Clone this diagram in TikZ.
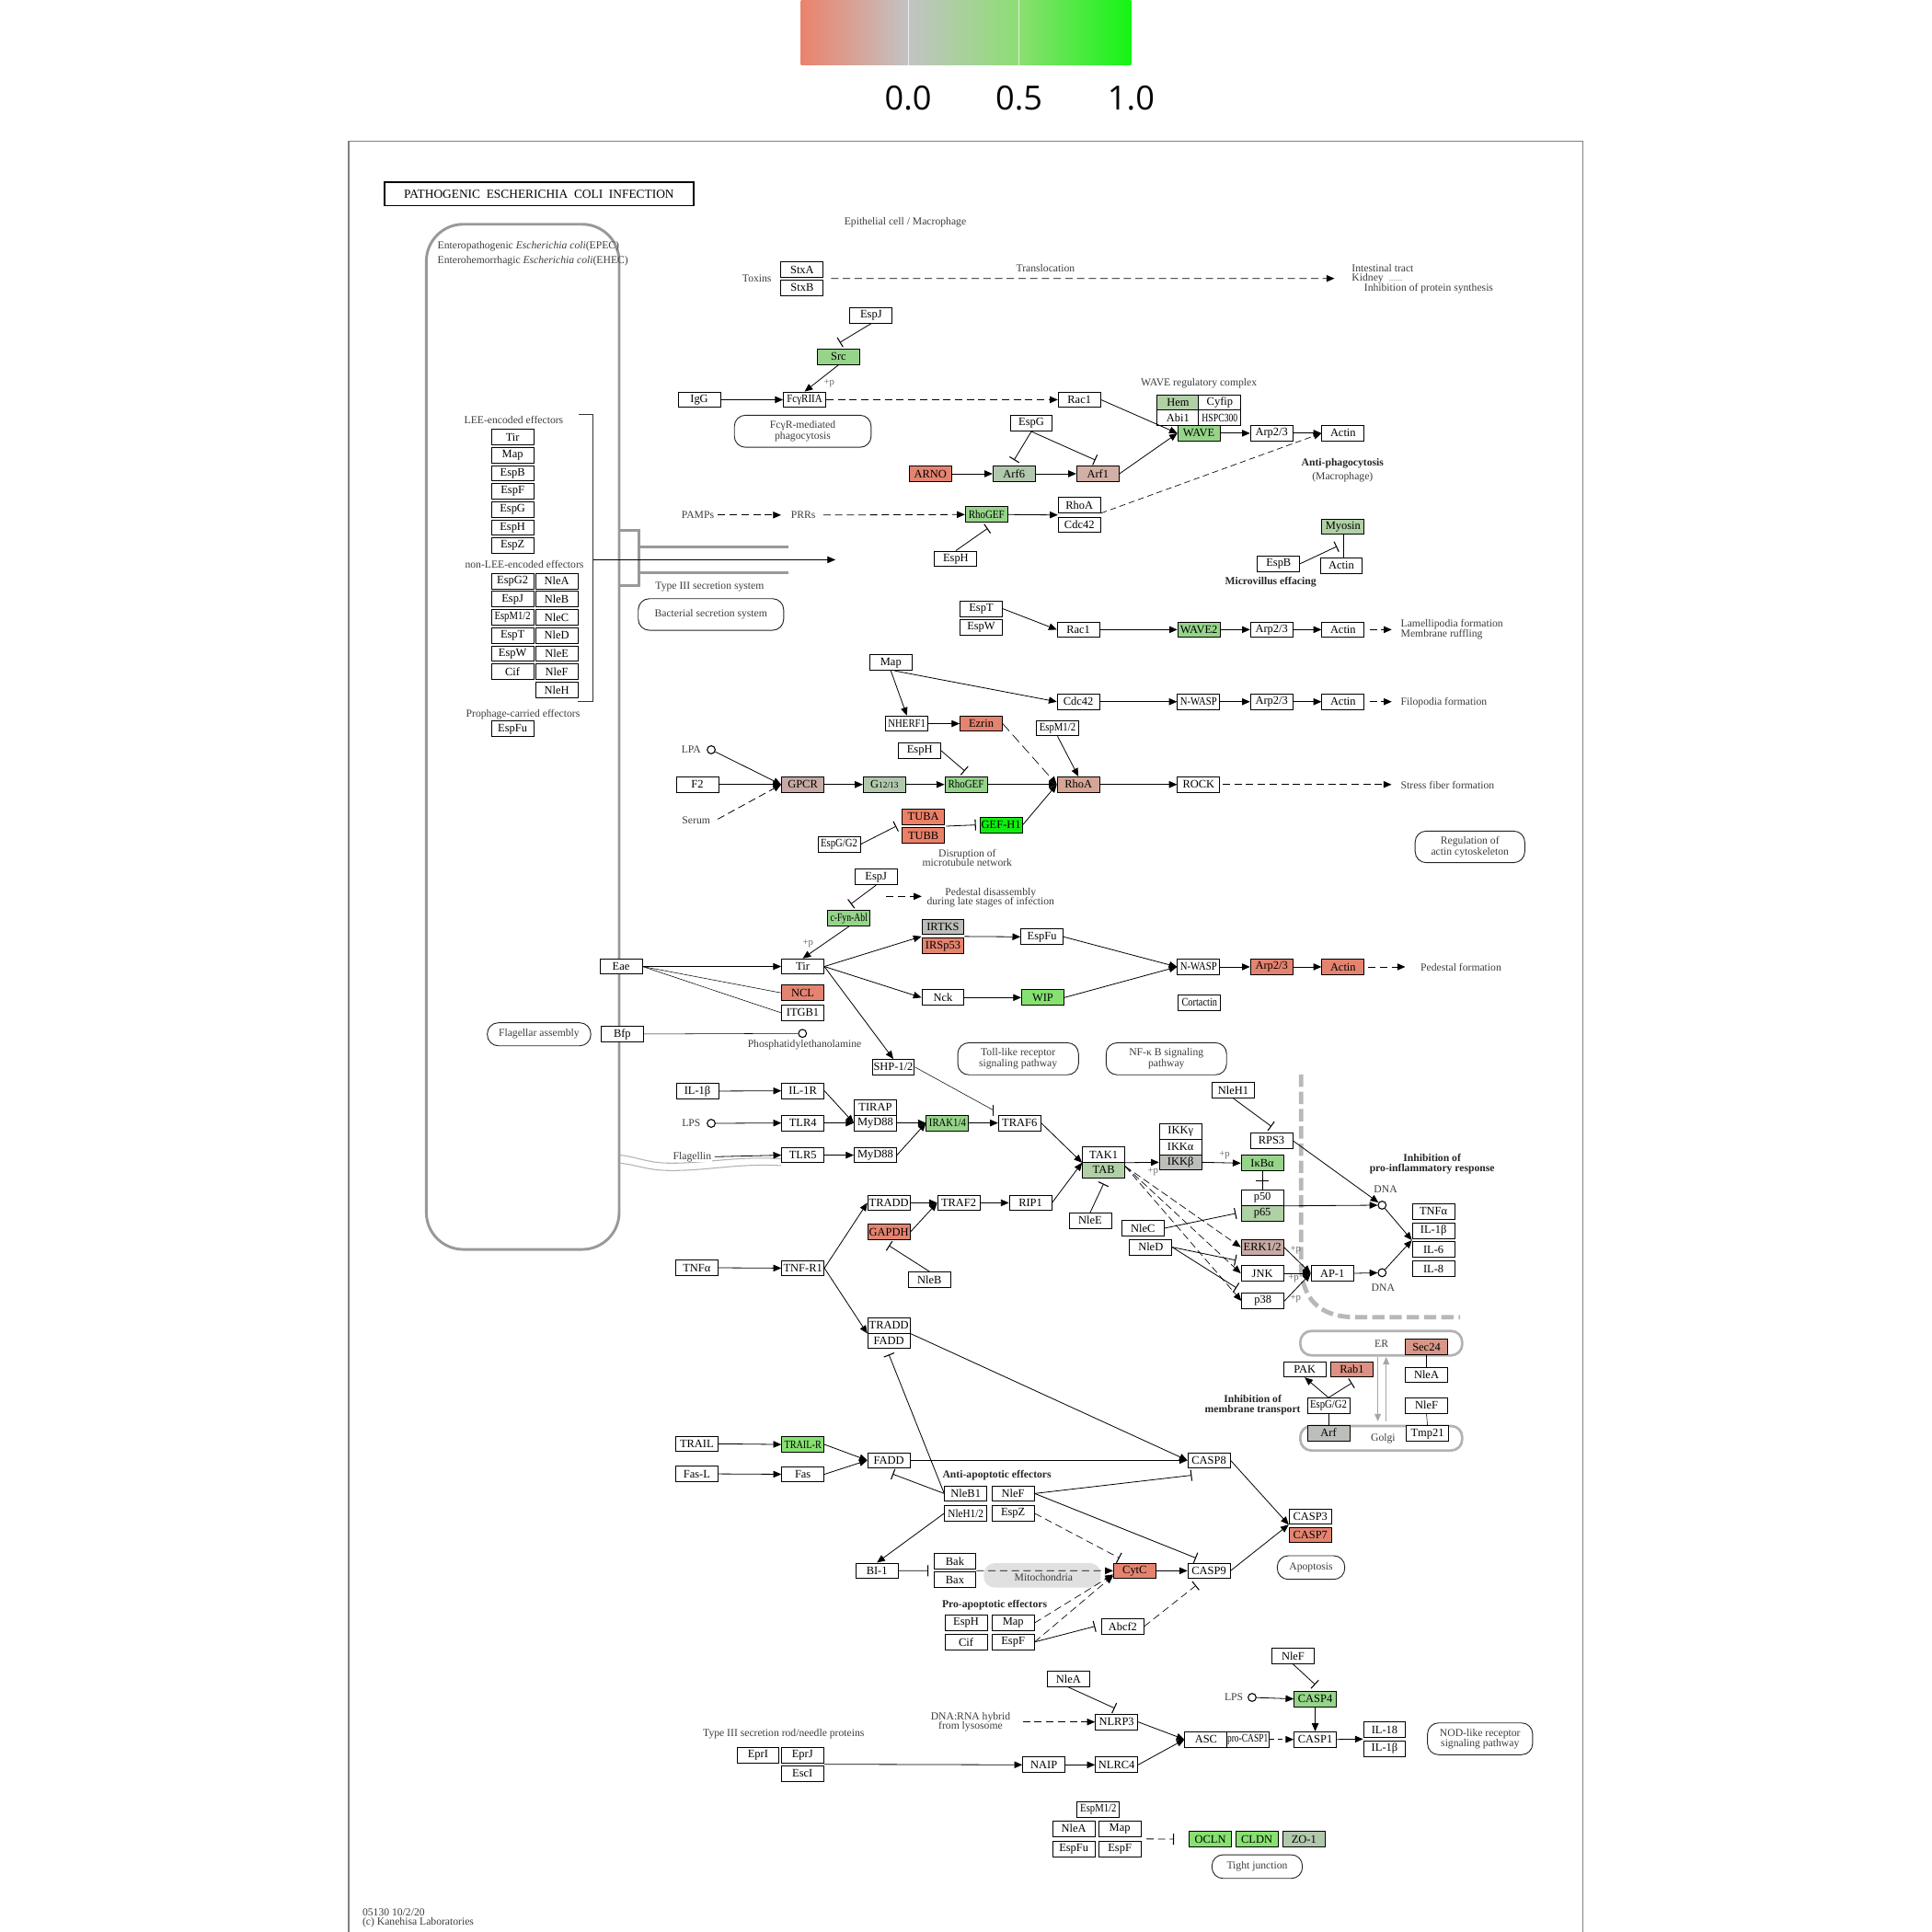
\documentclass[tikz,border=0pt]{standalone}
\usepackage{fontspec}
\usepackage{graphicx}
\setmainfont{Liberation Serif}
\newfontfamily\barfont{Open Sans}
\usetikzlibrary{arrows.meta,calc}
\definecolor{csal}{RGB}{228,132,112}
\definecolor{ctub}{RGB}{234,128,104}
\definecolor{carf}{RGB}{210,175,165}
\definecolor{cgpcr}{RGB}{200,170,165}
\definecolor{crhoa}{RGB}{215,165,150}
\definecolor{csec}{RGB}{215,150,135}
\definecolor{crab}{RGB}{220,145,130}
\definecolor{cgrn}{RGB}{150,212,138}
\definecolor{cgrn2}{RGB}{135,225,112}
\definecolor{cgz}{RGB}{178,200,172}
\definecolor{chem}{RGB}{176,208,166}
\definecolor{cbright}{RGB}{16,238,16}
\definecolor{cgray}{RGB}{188,190,186}
\definecolor{ctxt}{RGB}{60,60,60}
\definecolor{cbarl}{RGB}{235,130,108}
\definecolor{cbarm}{RGB}{195,195,195}
\definecolor{cbarg}{RGB}{140,222,115}
\definecolor{cbarr}{RGB}{20,245,20}
\newcommand{\sqz}[2][0.85]{\scalebox{#1}[1]{#2}}
\newcommand{\kg}[4][white]{\node[gene,fill=#1] (#2) at (#3) {#4};}
\newcommand{\kt}[3]{\node[lbl] (#1) at (#2) {#3};}
\begin{document}
\begin{tikzpicture}[x=1pt,y=-1pt,
  gene/.style={draw=black, line width=0.7pt, minimum width=34.3pt, minimum height=12.5pt, inner sep=0pt, font=\fontsize{9.3}{9.3}\selectfont},
  lbl/.style={inner sep=0pt, font=\fontsize{8.7}{8.7}\selectfont, text=ctxt, align=center},
  blbl/.style={inner sep=0pt, font=\fontsize{8.7}{8.7}\selectfont\bfseries, text=black!85, align=center},
  plbl/.style={inner sep=0pt, font=\fontsize{8}{8}\selectfont, text=black!60},
  pw/.style={draw=black!85, line width=0.7pt, rounded corners=9pt, inner sep=0pt, font=\fontsize{8.7}{8.5}\selectfont, text=ctxt, align=center},
  cpd/.style={circle, draw=black, line width=0.8pt, minimum size=6.5pt, inner sep=0pt, fill=white},
  act/.style={-{Triangle[length=6.5pt,width=5.5pt]}, line width=0.6pt},
  inh/.style={-{Bar[width=9pt,line width=0.8pt]}, line width=0.6pt},
  dsh/.style={dash pattern=on 6pt off 3.5pt},
  gline/.style={draw=black!40, line width=2.2pt},
]
\useasboundingbox (0,0) rectangle (1568,1568);
% colour bar
\shade[left color=cbarl, right color=cbarm] (650,0) rectangle (737,53);
\shade[left color=cbarm, right color=cbarg] (737,0) rectangle (827,53);
\shade[left color=cbarg, right color=cbarr] (827,0) rectangle (918,53);
\draw[white, line width=0.8pt, opacity=0.7] (737,0) -- (737,53);
\draw[white, line width=0.8pt, opacity=0.7] (827,0) -- (827,53);
\node[font=\barfont\fontsize{27}{27}\selectfont] (b0) at (737,80) {0.0};
\node[font=\barfont\fontsize{27}{27}\selectfont] (b5) at (827,80) {0.5};
\node[font=\barfont\fontsize{27}{27}\selectfont] (b1) at (918,80) {1.0};
% frame
\draw[black!50, line width=1.2pt] (283,1570) -- (283,114.5) -- (1284.5,114.5) -- (1284.5,1570);
\node[draw, line width=1.2pt, minimum width=251pt, minimum height=19pt, inner sep=0pt, font=\fontsize{10}{10}\selectfont] (title) at (437.5,157.5) {PATHOGENIC\ \ ESCHERICHIA\ \ COLI\ \ INFECTION};
% bacterium
\draw[gline, rounded corners=30pt] (346,182) rectangle (502.5,1014);
\node[lbl, anchor=west] (epec) at (355,200) {Enteropathogenic \textit{Escherichia coli}(EPEC)};
\node[lbl, anchor=west] (ehec) at (355,212) {Enterohemorrhagic \textit{Escherichia coli}(EHEC)};
% type III secretion
\draw[gline] (502.5,430.6) -- (518.6,430.6) -- (518.6,475.4) -- (502.5,475.4);
\draw[gline] (518.6,443.8) -- (639.7,443.8);
\draw[gline] (518.6,465) -- (639.7,465);
\draw[black!80, line width=0.7pt] (470,336.5) -- (481.4,336.5) -- (481.4,569.5) -- (469,569.5);
\coordinate (t3s) at (481.4,454.3);
\coordinate (t3e) at (678,454.3);
\draw[act] (t3s) -- (t3e);
\kt{t3lbl}{576,476.5}{Type III secretion system}
\node[pw, minimum width=118pt, minimum height=25.6pt] (pwbss) at (577,498.7) {Bacterial secretion system};
% effectors
\kt{leel}{417,341}{LEE-encoded effectors}
\kg{e1}{416,354.7}{Tir}
\kg{e2}{416,369.4}{Map}
\kg{e3}{416,384.1}{EspB}
\kg{e4}{416,398.8}{EspF}
\kg{e5}{416,413.5}{EspG}
\kg{e6}{416,428.2}{EspH}
\kg{e7}{416,442.9}{EspZ}
\kt{nleel}{425.6,457.8}{non-LEE-encoded effectors}
\kg{n1}{416,471.6}{EspG2}
\kg{n2}{416,486.3}{EspJ}
\kg{n3}{416,501}{\sqz[0.86]{EspM1/2}}
\kg{n4}{416,515.7}{EspT}
\kg{n5}{416,530.4}{EspW}
\kg{n6}{416,545.1}{Cif}
\kg{m1}{451.8,471.6}{NleA}
\kg{m2}{451.8,486.3}{NleB}
\kg{m3}{451.8,501}{NleC}
\kg{m4}{451.8,515.7}{NleD}
\kg{m5}{451.8,530.4}{NleE}
\kg{m6}{451.8,545.1}{NleF}
\kg{m7}{451.8,559.8}{NleH}
\kt{prol}{424.5,580}{Prophage-carried effectors}
\kg{espfu0}{416,591.6}{EspFu}
% top region
\kt{epi}{734.7,180.5}{Epithelial cell / Macrophage}
\kt{toxins}{614.3,225.7}{Toxins}
\kg{stxa}{651,219}{StxA}
\kg{stxb}{651,233.6}{StxB}
\kt{transl}{848.5,217.3}{Translocation}
\coordinate (toxend) at (1083,226);
\draw[act,dsh] ($(stxa.south east)+(6,0.5)$) -- (toxend);
\node[lbl, anchor=west] (intt) at (1097,218) {Intestinal tract};
\node[lbl, anchor=west] (kid) at (1097,226) {Kidney\ \ {\fontsize{5}{5}\selectfont .........}};
\node[lbl, anchor=west] (inhps) at (1107,234.5) {Inhibition of protein synthesis};
\kg{espj1}{707,256}{EspJ}
\kg[cgrn]{src}{680.5,289.6}{Src}
\kg{igg}{567.5,324.4}{IgG}
\kg{fcgr}{653,324.4}{\sqz[0.88]{FcγRIIA}}
\node[pw, minimum width=111pt, minimum height=26pt] (pwfcgr) at (651.5,350) {FcγR-mediated\\phagocytosis};
\kg{rac1a}{876,324.4}{Rac1}
\kg{espg1}{837,343.6}{EspG}
\kg[csal]{arno}{755,384.5}{ARNO}
\kg[cgz]{arf6}{823,384.5}{Arf6}
\kg[carf]{arf1}{891,384.5}{Arf1}
\kt{wrc}{973,311}{WAVE regulatory complex}
\kg[chem]{hem}{956,326.7}{Hem}
\kg{cyfip}{990,326.7}{Cyfip}
\kg{abi1}{956,339}{Abi1}
\kg{hspc}{990,339}{\sqz[0.78]{HSPC300}}
\kg[cgrn]{wave}{973,351.6}{WAVE}
\kg{arp23a}{1032,351.6}{Arp2/3}
\kg{actina}{1090,351.6}{Actin}
\node[blbl] (antiph) at (1089.6,375.8) {Anti-phagocytosis};
\kt{macro}{1089.6,387}{(Macrophage)}
\kt{pamps}{566.3,418}{PAMPs}
\kt{prrs}{652,418}{PRRs}
\kg[cgrn]{rhogef1}{800.6,417.6}{\sqz[0.88]{RhoGEF}}
\kg{rhoa1}{876,409.9}{RhoA}
\kg{cdc42a}{876,426}{Cdc42}
\kg{esph1}{775.7,453.5}{EspH}
\kg[chem]{myosin}{1090,427.4}{Myosin}
\kg{espb1}{1037.7,457.5}{EspB}
\kg{actinm}{1088.6,459}{Actin}
\node[blbl] (mve) at (1031.2,472.4) {Microvillus effacing};
\draw[act] (src.south) -- (fcgr.north);
\node[plbl] (pp1) at (673,311) {+p};
\draw[inh] (espj1.south) -- ($(src.north)+(1,-5)$);
\draw[act] (igg.east) -- (fcgr.west);
\draw[act,dsh] (fcgr.east) -- (rac1a.west);
\draw[act] (rac1a.east) -- (wave.west);
\draw[act] (arno.east) -- (arf6.west);
\draw[act] (arf6.east) -- (arf1.west);
\draw[inh] (espg1.south) -- ($(arf6.north)+(0,-4.5)$);
\draw[inh] (espg1.south) -- ($(arf1.north)+(-2,-4.5)$);
\draw[act] (arf1.east) -- (wave.west);
\draw[act] (wave.east) -- (arp23a.west);
\draw[act] (arp23a.east) -- (actina.west);
\draw[act,dash pattern=on 5pt off 3pt, line width=0.5pt] (rhoa1.south east) -- (actina.west);
\draw[act,dsh] ($(pamps.east)+(3,0)$) -- ($(prrs.west)+(-8,0)$);
\draw[act,dsh] ($(prrs.east)+(6,0)$) -- (rhogef1.west);
\draw[act] (rhogef1.east) -- ($(rhoa1.south west)!0.5!(cdc42a.north west)$);
\draw[inh] (esph1.north) -- ($(rhogef1.south)+(1,4.6)$);
\draw (myosin.south) -- (myosin.south |- actinm.north);
\draw[inh] (espb1.east) -- ($(myosin.south)+(-5,9.5)$);
% lamellipodia
\kg{espt}{796.3,494}{EspT}
\kg{espw}{796.3,509}{EspW}
\kg{rac1b}{875.2,511}{Rac1}
\kg[cgrn]{wave2}{973,511}{WAVE2}
\kg{arp23b}{1032,511}{Arp2/3}
\kg{actinb}{1090,511}{Actin}
\node[lbl, anchor=west] (lamel) at (1136.7,506.5) {Lamellipodia formation};
\node[lbl, anchor=west] (memr) at (1136.7,515.2) {Membrane ruffling};
\draw[act] (espt.east) -- (rac1b.west);
\draw[act] (rac1b.east) -- (wave2.west);
\draw[act] (wave2.east) -- (arp23b.west);
\draw[act] (arp23b.east) -- (actinb.west);
\draw[act,dsh] ($(actinb.east)+(4,0)$) -- ++(18,0);
% filopodia / stress fibres
\kg{map1}{723,537.8}{Map}
\kg{cdc42b}{875.2,569.5}{Cdc42}
\kg{nwasp1}{972.8,569.5}{\sqz[0.86]{N-WASP}}
\kg{arp23c}{1032,569.5}{Arp2/3}
\kg{actinc}{1090,569.5}{Actin}
\node[lbl, anchor=west] (filo) at (1136.7,570) {Filopodia formation};
\kg{nherf1}{736,587.3}{\sqz[0.86]{NHERF1}}
\kg[csal]{ezrin}{796.3,587.3}{Ezrin}
\kg{espm12a}{858.3,591}{\sqz[0.86]{EspM1/2}}
\kg{esph2}{746.4,609.3}{EspH}
\node[cpd] (lpac) at (577.2,608.5) {};
\kt{lpa}{561,608.5}{LPA}
\kg{f2}{566,636.7}{F2}
\kt{serum}{565,665.8}{Serum}
\kg[cgpcr]{gpcr}{651.5,636.7}{GPCR}
\kg[cgz]{g1213}{717.8,636.7}{G{\fontsize{7}{7}\selectfont 12/13}}
\kg[cgrn]{rhogef2}{784,636.7}{\sqz[0.88]{RhoGEF}}
\kg[crhoa]{rhoa2}{875.2,636.7}{RhoA}
\kg{rock}{972.8,636.7}{ROCK}
\node[lbl, anchor=west] (sff) at (1136.7,637.6) {Stress fiber formation};
\kg[ctub]{tuba}{749.4,662.8}{TUBA}
\kg[ctub]{tubb}{749.4,678.2}{TUBB}
\kg{espgg2a}{681,685.2}{\sqz[0.86]{EspG/G2}}
\kg[cbright]{gefh1}{812.5,669.5}{GEF-H1}
\kt{disr}{785,696}{Disruption of\\[-1.2pt]microtubule network}
\node[pw, minimum width=89pt, minimum height=25.6pt] (pwrac) at (1193,687.3) {Regulation of\\actin cytoskeleton};
\draw[act] ($(map1.south)+(3,0)$) -- (cdc42b.west);
\draw[act] (map1.south) -- (nherf1.north);
\draw[act] (nherf1.east) -- (ezrin.west);
\draw[act, dash pattern=on 8pt off 4pt, line width=0.5pt] (ezrin.east) -- (rhoa2.west);
\draw[act] (cdc42b.east) -- (nwasp1.west);
\draw[act] (nwasp1.east) -- (arp23c.west);
\draw[act] (arp23c.east) -- (actinc.west);
\draw[act,dsh] ($(actinc.east)+(4,0)$) -- ++(18,0);
\draw[act] (espm12a.south) -- (rhoa2.north);
\draw[inh] (esph2.east) -- ($(rhogef2.north)+(-1,-4.4)$);
\draw[act] (lpac) -- (gpcr.west);
\draw[act] (f2.east) -- (gpcr.west);
\draw[act,dsh] ($(serum.east)+(6,-1)$) -- (gpcr.west);
\draw[act] (gpcr.east) -- (g1213.west);
\draw[act] (g1213.east) -- (rhogef2.west);
\draw[act] (rhogef2.east) -- (rhoa2.west);
\draw[act] (rhoa2.east) -- (rock.west);
\draw[act,dsh] ($(rock.east)+(2,0)$) -- ++(137,0);
\draw[inh] (espgg2a.east) -- ($(tuba.south west)!0.5!(tubb.north west)+(-4.5,0)$);
\draw[inh] ($(tuba.south east)!0.5!(tubb.north east)+(1,0)$) -- ($(gefh1.west)+(-3,0)$);
\draw[act] (gefh1.east) -- (rhoa2.west);
% pedestal
\kg{espj2}{711,711.8}{EspJ}
\kg[cgrn]{cfyn}{689,745.3}{\sqz[0.78]{c-Fyn-Abl}}
\kt{peddis}{804,728.4}{Pedestal disassembly\\[-1.2pt]during late stages of infection}
\coordinate (pd1) at (719.3,727.5);
\coordinate (pd2) at (748,727.5);
\kg[cgray]{irtks}{765.3,752.2}{IRTKS}
\kg[csal]{irsp53}{765.3,767.8}{IRSp53}
\kg{espfu1}{845.7,760.3}{EspFu}
\kg{eae}{504,784.4}{Eae}
\kg{tir}{651.5,784.4}{Tir}
\kg[csal]{ncl}{651.5,805.8}{NCL}
\kg{itgb1}{651.5,822}{ITGB1}
\kg{nwasp2}{972.8,784.7}{\sqz[0.86]{N-WASP}}
\kg[csal]{arp23d}{1032,784.7}{Arp2/3}
\kg[csal]{actind}{1090,784.7}{Actin}
\kt{pedf}{1185.7,785}{Pedestal formation}
\kg{nck}{765.3,809.6}{Nck}
\kg[cgrn2]{wip}{846.3,809.6}{WIP}
\kg{cortactin}{973.5,813.8}{\sqz[0.83]{Cortactin}}
\node[pw, minimum width=84pt, minimum height=18.7pt] (pwflag) at (437.5,839.4) {Flagellar assembly};
\kg{bfp}{505,839.2}{Bfp}
\node[cpd] (pec) at (651.3,838.7) {};
\kt{pelbl}{653,848}{Phosphatidylethanolamine}
\kg{shp}{725,866}{SHP-1/2}
\node[pw, minimum width=98pt, minimum height=26pt] (pwtlr) at (826.3,859.3) {Toll-like receptor\\signaling pathway};
\node[pw, minimum width=97.8pt, minimum height=26pt] (pwnfkb) at (946.6,859.3) {NF-κ B signaling\\pathway};
\draw[inh] (espj2.south) -- ($(cfyn.north)+(1.5,-5)$);
\draw[act,dsh] (pd1) -- (pd2);
\draw[act] (cfyn.south) -- (tir.north);
\node[plbl] (pp2) at (655.8,765.8) {+p};
\draw[act] (eae.east) -- (tir.west);
\draw (eae.east) -- (ncl.west);
\draw (eae.east) -- (itgb1.west);
\draw (bfp.east) -- (pec);
\draw[act] (tir.east) -- ($(irtks.south west)!0.5!(irsp53.north west)$);
\draw[act] ($(irtks.south east)!0.5!(irsp53.north east)$) -- (espfu1.west);
\draw[act] (espfu1.east) -- (nwasp2.west);
\draw[act] (tir.east) -- (nck.west);
\draw[act] (nck.east) -- (wip.west);
\draw[act] (wip.east) -- (nwasp2.west);
\draw[act] (tir.east) -- (shp.north);
\draw[act] (nwasp2.east) -- (arp23d.west);
\draw[act] (arp23d.east) -- (actind.west);
\draw[act,dsh] ($(actind.east)+(3,0)$) -- ++(30,0);
% nucleus boundary
\draw[black!28, line width=3.6pt, dash pattern=on 10pt off 4pt] (1056,872) -- (1056,1030) .. controls (1058,1058) and (1075,1069) .. (1100,1069) -- (1185,1069);
% TLR / TNF signalling
\kg{il1b1}{566,885.5}{IL-1β}
\kg{il1r}{651.6,885.3}{IL-1R}
\node[cpd] (lpsc1) at (577.2,911.7) {};
\kt{lps1}{561,911.7}{LPS}
\kg{tlr4}{651.6,911.4}{TLR4}
\draw[black!30, line width=0.8pt] (503,937.5) .. controls (518,939) and (525,944) .. (545,944) .. controls (575,944) and (600,938) .. (634,940.5);
\draw[black!30, line width=0.8pt] (503,944) .. controls (518,945.5) and (525,950) .. (545,950) .. controls (575,950) and (600,944) .. (634,946);
\node[lbl, fill=white, inner sep=0.5pt] (flagellin) at (561.8,938.8) {Flagellin};
\kg{tlr5}{651.6,937.5}{TLR5}
\kg{tirap}{710.4,898.8}{TIRAP}
\kg{myd88a}{710.4,911.4}{MyD88}
\kg{myd88b}{710.4,937.5}{MyD88}
\kg[cgrn]{irak}{769,911.4}{\sqz[0.86]{IRAK1/4}}
\kg{traf6}{827.5,911.4}{TRAF6}
\kg{tak1}{895.7,937}{TAK1}
\kg[chem]{tab}{895.7,949.6}{TAB}
\kg{ikkg}{958.1,918.4}{IKKγ}
\kg{ikka}{958.1,930.8}{IKKα}
\kg[cgray]{ikkb}{958.1,943.3}{IKKβ}
\kg[cgrn]{ikba}{1024.5,944}{IκBα}
\kg{nleh1}{1000.9,884.8}{NleH1}
\kg{rps3}{1031.9,925.8}{RPS3}
\kg{p50}{1024.5,972.1}{p50}
\kg[chem]{p65}{1024.5,984.8}{p65}
\kg{nlee1}{884.8,990.6}{NleE}
\kg{nlec1}{927.5,996.8}{NleC}
\kg{nled1}{933.9,1012.2}{NleD}
\kg[cgpcr]{erk}{1024.5,1012.2}{ERK1/2}
\kg{jnk}{1024.5,1033.4}{JNK}
\kg{p38}{1025,1055.8}{p38}
\kg{ap1}{1081.3,1033.4}{AP-1}
\node[cpd] (dna1) at (1121.7,978.1) {};
\node[cpd] (dna2) at (1121.7,1032.9) {};
\kt{dnal1}{1124.5,965.2}{DNA}
\kt{dnal2}{1122.5,1044.8}{DNA}
\kg{tnfa2}{1163.4,983.1}{TNFα}
\kg{il1b2}{1163.4,998.8}{IL-1β}
\kg{il6}{1163.4,1014.2}{IL-6}
\kg{il8}{1163.4,1029.7}{IL-8}
\node[blbl] (inhpro) at (1162.3,944.3) {Inhibition of\\[-0.5pt]pro-inflammatory response};
\draw[act] (il1b1.east) -- (il1r.west);
\draw[act] (lpsc1) -- (tlr4.west);
\draw[act] ($(flagellin.east)+(2,0)$) -- (tlr5.west);
\draw[act] (il1r.east) -- (myd88a.west);
\draw[act] (tlr4.east) -- (myd88a.west);
\draw[act] (tlr5.east) -- (myd88b.west);
\draw[act] (myd88a.east) -- (irak.west);
\draw[act] (myd88b.east) -- (irak.west);
\draw[act] (irak.east) -- (traf6.west);
\draw (shp.east) -- ($(traf6.west)+(-4,-10.5)$);
\draw[line width=0.8pt] ($(traf6.west)+(-4,-15)$) -- ($(traf6.west)+(-4,-5.5)$);
\draw[act] (traf6.east) -- (tak1.south west);
\draw[act] (tak1.south east) -- (ikkb.west);
\node[plbl] (pp3) at (935.8,950.7) {+p};
\draw[act] (ikkb.east) -- (ikba.west);
\node[plbl] (pp4) at (993.8,937.8) {+p};
\draw[inh] (nlee1.north) -- ($(tab.south)+(0,4.5)$);
\draw[inh] (nleh1.south) -- ($(rps3.north)+(0,-5)$);
\draw[act] (rps3.east) -- (dna1);
\draw (ikba.south) -- (p50.north);
\draw[line width=0.8pt] ($(ikba.south)!0.5!(p50.north)+(-5,0)$) -- ++(10,0);
\draw[act] (p50.south east) -- (dna1);
\draw[inh] (nlec1.east) -- ($(p65.west)+(-4,0)$);
\draw[act,dash pattern=on 6pt off 3pt, line width=0.5pt] ($(tab.east)+(0,-3)$) -- (erk.west);
\draw[act,dash pattern=on 6pt off 3pt, line width=0.5pt] ($(tab.east)+(0,-3)$) -- (jnk.west);
\draw[act,dash pattern=on 6pt off 3pt, line width=0.5pt] ($(tab.east)+(0,-3)$) -- (p38.west);
\draw[inh] (nled1.east) -- ($(jnk.north west)+(-4,-4)$);
\draw[inh] (nled1.east) -- ($(p38.north west)+(-4,-4)$);
\draw[act] (erk.east) -- (ap1.west);
\draw[act] (jnk.east) -- (ap1.west);
\draw[act] (p38.east) -- (ap1.west);
\node[plbl] (pp5) at (1051.5,1014.2) {+p};
\node[plbl] (pp6) at (1049.8,1037.3) {+p};
\node[plbl] (pp7) at (1051.5,1054) {+p};
\draw[act] (ap1.east) -- (dna2);
\draw[act] (dna1) -- ($(il1b2.south west)!0.5!(il6.north west)$);
\draw[act] (dna2) -- ($(il1b2.south west)!0.5!(il6.north west)$);
% ER / Golgi
\draw[black!30, line width=2pt, rounded corners=9pt] (1055.3,1080.2) rectangle (1186.7,1100);
\draw[black!30, line width=2pt, rounded corners=9pt] (1055.3,1157.3) rectangle (1186.7,1177.2);
\kt{erl}{1121.2,1090.6}{ER}
\kt{golgil}{1122.5,1167.8}{Golgi}
\draw[black!35, line width=0.9pt, -{Triangle[length=6pt,width=5pt]}] (1118.2,1101.3) -- (1118.2,1153.6);
\draw[black!35, line width=0.9pt, -{Triangle[length=6pt,width=5pt]}] (1125,1153.6) -- (1125,1101.3);
\kg[csec]{sec24}{1157.7,1093.1}{Sec24}
\kg{pak}{1058.9,1111.3}{PAK}
\kg[crab]{rab1}{1097.2,1111.3}{Rab1}
\kg{nlea2}{1157.7,1115.8}{NleA}
\kg{nlef2}{1157.7,1140.6}{NleF}
\kg{espgg2b}{1078.2,1140.9}{\sqz[0.86]{EspG/G2}}
\kg[cgray]{arf}{1078.2,1163}{Arf}
\kg{tmp21}{1158.5,1163.5}{Tmp21}
\node[blbl] (inhmt) at (1016.7,1140.5) {Inhibition of\\[-0.5pt]membrane transport};
\draw (sec24.south) -- (nlea2.north);
\draw (nlef2.south) -- (tmp21.north);
\draw (espgg2b.south) -- (arf.north);
\draw[act] (espgg2b.north) -- (pak.south);
\draw[inh] (espgg2b.north) -- ($(rab1.south)+(0,4.5)$);
% apoptosis
\kg{tnfa1}{565.5,1028.9}{TNFα}
\kg{tnfr1}{651.6,1029.2}{TNF-R1}
\kg{tradd1}{721.4,976.2}{TRADD}
\kg[csal]{gapdh}{721.4,999.8}{GAPDH}
\kg{traf2}{778.1,976.2}{TRAF2}
\kg{rip1}{836.3,976.2}{RIP1}
\kg{nleb2}{754.4,1038.6}{NleB}
\kg{tradd2}{721.4,1075.7}{TRADD}
\kg{fadd1}{721.4,1088.2}{FADD}
\kg{trail}{565.5,1171.8}{TRAIL}
\kg[cgrn2]{trailr}{651.6,1172.3}{\sqz[0.82]{TRAIL-R}}
\kg{fasl}{565.5,1196.2}{Fas-L}
\kg{fas}{651.6,1196.5}{Fas}
\kg{fadd2}{721.4,1185.2}{FADD}
\kg{casp8}{981.2,1185.2}{CASP8}
\node[blbl, anchor=west] (antiap) at (764.8,1197.6) {Anti-apoptotic effectors};
\kg{nleb1}{783.8,1212.1}{NleB1}
\kg{nlef1}{822.2,1212.1}{NleF}
\kg{nleh12}{783.8,1228.2}{\sqz[0.9]{NleH1/2}}
\kg{espz1}{822.2,1228.2}{EspZ}
\kg{casp3}{1063.4,1230.8}{CASP3}
\kg[csal]{casp7}{1063.4,1245.7}{CASP7}
\node[pw, minimum width=54.8pt, minimum height=19.2pt] (pwapo) at (1064,1272.2) {Apoptosis};
\fill[black!12, rounded corners=9pt] (798.4,1268.6) rectangle (893.5,1288.5);
\kt{mito}{847,1280.5}{Mitochondria}
\kg{bi1}{711.7,1274.8}{BI-1}
\kg{bak}{775,1267.3}{Bak}
\kg{bax}{775,1282.2}{Bax}
\kg[csal]{cytc}{920.9,1274.8}{CytC}
\kg{casp9}{981.2,1274.8}{CASP9}
\kg{abcf2}{911.2,1319.9}{Abcf2}
\node[blbl] (proap) at (807.2,1302.4) {Pro-apoptotic effectors};
\kg{esph3}{784,1317.1}{EspH}
\kg{map2}{822.2,1317.1}{Map}
\kg{cif1}{784,1332.6}{Cif}
\kg{espf2}{822.2,1332.6}{EspF}
\draw[act] (tnfa1.east) -- (tnfr1.west);
\draw[act] (tnfr1.east) -- (tradd1.west);
\draw[act] (tnfr1.east) -- (tradd2.south west);
\draw[act] (tradd1.east) -- (traf2.west);
\draw[act] (gapdh.east) -- (traf2.west);
\draw[inh] (nleb2.north) -- ($(gapdh.south)+(0,4.5)$);
\draw[act] (traf2.east) -- (rip1.west);
\draw[act] (rip1.east) -- (tak1.south west);
\draw[act] (tradd2.south east) -- (casp8.west);
\draw[act] (trail.east) -- (trailr.west);
\draw[act] (fasl.east) -- (fas.west);
\draw[act] (trailr.east) -- (fadd2.west);
\draw[act] (fas.east) -- (fadd2.west);
\draw[act] (fadd2.east) -- (casp8.west);
\draw[inh] (nleb1.west) -- ($(fadd1.south)+(0,4.5)$);
\draw[inh] (nleb1.west) -- ($(fadd2.south)+(3,4.5)$);
\draw[inh] (nlef1.east) -- ($(casp8.south)+(-14,5.5)$);
\draw[inh] (nlef1.east) -- ($(casp9.north)+(-10.5,-3.7)$);
\draw[inh,dsh,line width=0.5pt] (espz1.east) -- ($(cytc.north)+(-12.4,-3.7)$);
\draw[act] (nleh12.west) -- (bi1.north);
\draw[inh] (bi1.east) -- ($(bak.south west)!0.5!(bax.north west)+(-4,0)$);
\draw[act,dsh] ($(bak.south east)!0.5!(bax.north east)$) -- (cytc.west);
\draw[act] (cytc.east) -- (casp9.west);
\draw[inh,dsh,line width=0.5pt] (abcf2.east) -- ($(casp9.south)+(-10.5,5.3)$);
\draw[act,dsh,line width=0.5pt] (map2.east) -- ($(cytc.west)+(0,3)$);
\draw[act,dsh,line width=0.5pt] (espf2.east) -- ($(cytc.west)+(0,4)$);
\draw[inh] (espf2.east) -- ($(abcf2.west)+(-5,0)$);
\draw[act] (casp8.east) -- (casp3.south west);
\draw[act] (casp9.east) -- (casp3.south west);
% inflammasome
\kg{nlea3}{867.1,1362.7}{NleA}
\kg{nlrp3}{906.2,1397.5}{NLRP3}
\kt{dnarnal}{787.7,1397.3}{DNA:RNA hybrid\\[-1.2pt]from lysosome}
\coordinate (dnarna) at (830,1397.5);
\kt{t3rod}{636,1407.5}{Type III secretion rod/needle proteins}
\kg{epri}{615.2,1424.4}{EprI}
\kg{eprj}{651.3,1424.4}{EprJ}
\kg{esci}{651.3,1439.3}{EscI}
\kg{naip}{847.2,1432.3}{NAIP}
\kg{nlrc4}{906.2,1432.3}{NLRC4}
\kg{asc}{978.8,1411.7}{ASC}
\kg{procasp1}{1012.6,1411.7}{\sqz[0.76]{pro-CASP1}}
\node[cpd] (lpsc2) at (1016.2,1377.6) {};
\kt{lps2}{1001.3,1377.6}{LPS}
\kg[cgrn]{casp4}{1067.4,1378.8}{CASP4}
\kg{nlef3}{1049.4,1344}{NleF}
\kg{casp1}{1067.4,1411.7}{CASP1}
\kg{il18}{1123.7,1403.7}{IL-18}
\kg{il1b3}{1123.7,1419.1}{IL-1β}
\node[pw, minimum width=85.3pt, minimum height=25.8pt] (pwnod) at (1201.2,1411.2) {NOD-like receptor\\signaling pathway};
\draw[inh] (nlea3.south) -- ($(nlrp3.north)+(-1.5,-4.5)$);
\draw[act,dsh] (dnarna) -- (nlrp3.west);
\draw[act] ($(eprj.south east)!0.5!(esci.north east)$) -- (naip.west);
\draw[act] (naip.east) -- (nlrc4.west);
\draw[act] (nlrp3.east) -- (asc.west);
\draw[act] (nlrc4.east) -- (asc.west);
\draw[act, dash pattern=on 4pt off 3pt] (procasp1.east) -- (casp1.west);
\draw[act] (lpsc2) -- (casp4.west);
\draw[inh] (nlef3.south) -- ($(casp4.north)+(0,-5)$);
\draw[act] (casp4.south) -- (casp1.north);
\draw[act] (casp1.east) -- ($(il18.south west)!0.5!(il1b3.north west)$);
% tight junction
\kg{espm12b}{891.4,1468.4}{\sqz[0.86]{EspM1/2}}
\kg{nlea4}{871.5,1484.1}{NleA}
\kg{map3}{908.8,1484.1}{Map}
\kg{espfu2}{871.5,1500.8}{EspFu}
\kg{espf3}{908.8,1500.8}{EspF}
\kg[cgrn2]{ocln}{982.3,1492.6}{OCLN}
\kg[cgrn2]{cldn}{1020,1492.6}{CLDN}
\kg[cgz]{zo1}{1058.2,1492.6}{ZO-1}
\node[pw, minimum width=73.4pt, minimum height=19.2pt] (pwtj) at (1020.3,1514.9) {Tight junction};
\draw[inh,dsh] ($(map3.south east)!0.5!(espf3.north east)+(4,0)$) -- ($(ocln.west)+(-12,0)$);
% footer
\node[lbl, anchor=west, align=left] (foot) at (294,1556.8) {05130 10/2/20\\[-1.5pt](c) Kanehisa Laboratories};
\end{tikzpicture}
\end{document}
